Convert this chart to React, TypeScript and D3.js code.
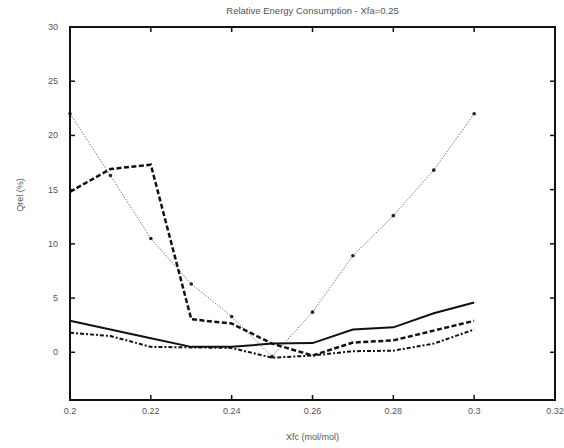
import React from "react";
import * as d3 from "d3";

const xValues = [0.2, 0.21, 0.22, 0.23, 0.24, 0.25, 0.26, 0.27, 0.28, 0.29, 0.3];
const seriesSolid = [2.9, 2.1, 1.3, 0.5, 0.5, 0.8, 0.85, 2.1, 2.3, 3.6, 4.6];
const seriesThickDash = [14.8, 16.9, 17.3, 3.05, 2.65, 0.8, -0.3, 0.9, 1.1, 2.0, 2.9];
const seriesLowDash = [1.8, 1.5, 0.5, 0.45, 0.4, -0.5, -0.3, 0.1, 0.15, 0.8, 2.1];
const seriesDotted = [22.0, 16.3, 10.5, 6.3, 3.3, -0.4, 3.7, 8.9, 12.6, 16.8, 22.0];
const xTicks = [0.2, 0.22, 0.24, 0.26, 0.28, 0.3, 0.32];
const xTickLabels = ["0.2", "0.22", "0.24", "0.26", "0.28", "0.3", "0.32"];
const yTicks = [0, 5, 10, 15, 20, 25, 30];
const title = "Relative Energy Consumption - Xfa=0.25";
const xLabel = "Xfc (mol/mol)";
const yLabel = "Qrel (%)";

const W = 564;
const H = 448;
const left = 70;
const right = 555;
const top = 27;
const bottom = 400;

export default function App() {
  const x = d3.scaleLinear().domain([0.2, 0.32]).range([left, right]);
  const y = d3.scaleLinear().domain([-4.4, 30]).range([bottom, top]);
  const line = d3
    .line<number>()
    .x((_, i) => x(xValues[i]))
    .y((d) => y(d));
  const font = "Liberation Sans, Arial, sans-serif";
  const textFill = "#555";
  const tickLen = 5;

  return (
    <svg
      width={W}
      height={H}
      style={{ position: "absolute", left: 0, top: 0, background: "#fff" }}
    >
      <rect x={0} y={0} width={W} height={H} fill="#fff" />
      <text x={(left + right) / 2} y={14} textAnchor="middle" fontFamily={font} fontSize={9.5} fill={textFill}>
        {title}
      </text>
      {/* ticks */}
      {xTicks.map((t, i) => (
        <g key={"xt" + i}>
          <line x1={x(t)} x2={x(t)} y1={bottom} y2={bottom - tickLen} stroke="#111" strokeWidth={1.5} />
          <line x1={x(t)} x2={x(t)} y1={top} y2={top + tickLen} stroke="#111" strokeWidth={1.5} />
          <text x={x(t)} y={bottom + 14} textAnchor="middle" fontFamily={font} fontSize={9} fill={textFill}>
            {xTickLabels[i]}
          </text>
        </g>
      ))}
      {yTicks.map((t, i) => (
        <g key={"yt" + i}>
          <line x1={left} x2={left + tickLen} y1={y(t)} y2={y(t)} stroke="#111" strokeWidth={1.5} />
          <line x1={right} x2={right - tickLen} y1={y(t)} y2={y(t)} stroke="#111" strokeWidth={1.5} />
          <text x={58} y={y(t) + 3} textAnchor="end" fontFamily={font} fontSize={9} fill={textFill}>
            {String(t)}
          </text>
        </g>
      ))}
      <text x={(left + right) / 2} y={440} textAnchor="middle" fontFamily={font} fontSize={9} fill={textFill}>
        {xLabel}
      </text>
      <text
        transform={`translate(23, 195) rotate(-90)`}
        textAnchor="middle"
        fontFamily={font}
        fontSize={9}
        fill={textFill}
      >
        {yLabel}
      </text>
      {/* series */}
      <path d={line(seriesDotted) || ""} fill="none" stroke="#777" strokeWidth={1} strokeDasharray="1.5,1.5" />
      {seriesDotted.map((v, i) => (
        <circle key={"dm" + i} cx={x(xValues[i])} cy={y(v)} r={1.8} fill="#222" />
      ))}
      <path d={line(seriesSolid) || ""} fill="none" stroke="#111" strokeWidth={2} />
      <path d={line(seriesThickDash) || ""} fill="none" stroke="#111" strokeWidth={2.5} strokeDasharray="5,2.5" />
      <path d={line(seriesLowDash) || ""} fill="none" stroke="#111" strokeWidth={2} strokeDasharray="4,2,2,2" />
      {/* frame */}
      <rect x={left} y={top} width={right - left} height={bottom - top} fill="none" stroke="#111" strokeWidth={2} />
    </svg>
  );
}
